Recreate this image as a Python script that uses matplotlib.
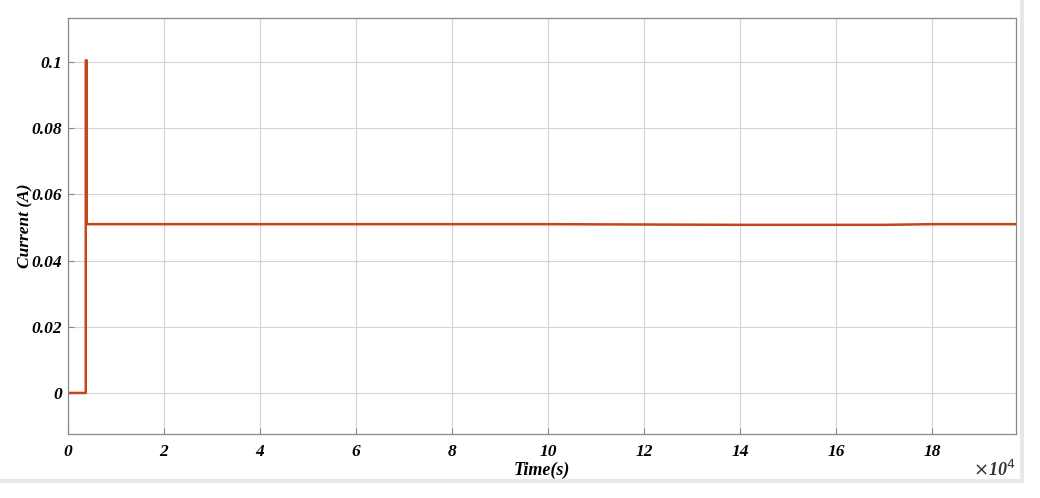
import numpy as np
import matplotlib.pyplot as plt

# time in units of 1e4 s, current in A
time = [0.0, 0.37, 0.37, 0.39, 0.39, 2.0, 6.0, 10.0, 12.0, 14.0, 16.0, 17.0, 18.0, 19.8]
current = [0.0, 0.0, 0.1005, 0.1005, 0.0510, 0.0510, 0.0510, 0.0510, 0.0509, 0.0508,
           0.0508, 0.0508, 0.0510, 0.0510]
xticks = [0, 2, 4, 6, 8, 10, 12, 14, 16, 18]
yticks = [0, 0.02, 0.04, 0.06, 0.08, 0.1]
ytick_labels = ['0', '0.02', '0.04', '0.06', '0.08', '0.1']

plt.rcParams['font.family'] = ['Liberation Serif', 'DejaVu Serif']

fig = plt.figure(figsize=(10.4, 4.98), dpi=100)
ax = fig.add_axes([68 / 1040, 1 - 434 / 498, (1016 - 68) / 1040, (434 - 18) / 498])

ax.plot(time, current, color='#C4441B', linewidth=1.8)

ax.set_xlim(0, 19.75)
ax.set_ylim(-0.0124, 0.1133)
ax.set_xticks(xticks)
ax.set_yticks(yticks)
ax.set_yticklabels(ytick_labels)
ax.grid(True, color='#d4d4d4', linewidth=0.8)
ax.tick_params(direction='in', length=4, color='#888888', labelsize=12.5)
ax.tick_params(axis='x', pad=7)
ax.tick_params(axis='y', pad=4)
for lab in ax.get_xticklabels() + ax.get_yticklabels():
    lab.set_fontweight('bold')
    lab.set_fontstyle('italic')
for s in ax.spines.values():
    s.set_color('#888888')
    s.set_linewidth(0.9)

ax.set_xlabel('Time(s)', fontsize=13, fontweight='bold', fontstyle='italic')
ax.set_ylabel('Current (A)', fontsize=12.5, fontweight='bold', fontstyle='italic')
ax.xaxis.set_label_coords(0.5, -(470 - 434) / 416, transform=ax.transAxes)
ax.yaxis.set_label_coords((25 - 68) / 948, 0.5, transform=ax.transAxes)
ax.xaxis.label.set_va('center')
ax.yaxis.label.set_va('center')
ax.text(1.0, -(470 - 434) / 416, r'$\times$10$^4$', transform=ax.transAxes,
        ha='right', va='center', fontsize=13, fontstyle='italic', fontweight='bold',
        color='#333333')

# light grey frame around the figure
fig.add_artist(plt.Rectangle((-0.01, 1 - 481 / 498), 1022 / 1040 + 0.01, 481 / 498 + 0.01,
                             transform=fig.transFigure, fill=False,
                             edgecolor='#e8e8e8', linewidth=3))

fig.savefig('out.png', dpi=100)
